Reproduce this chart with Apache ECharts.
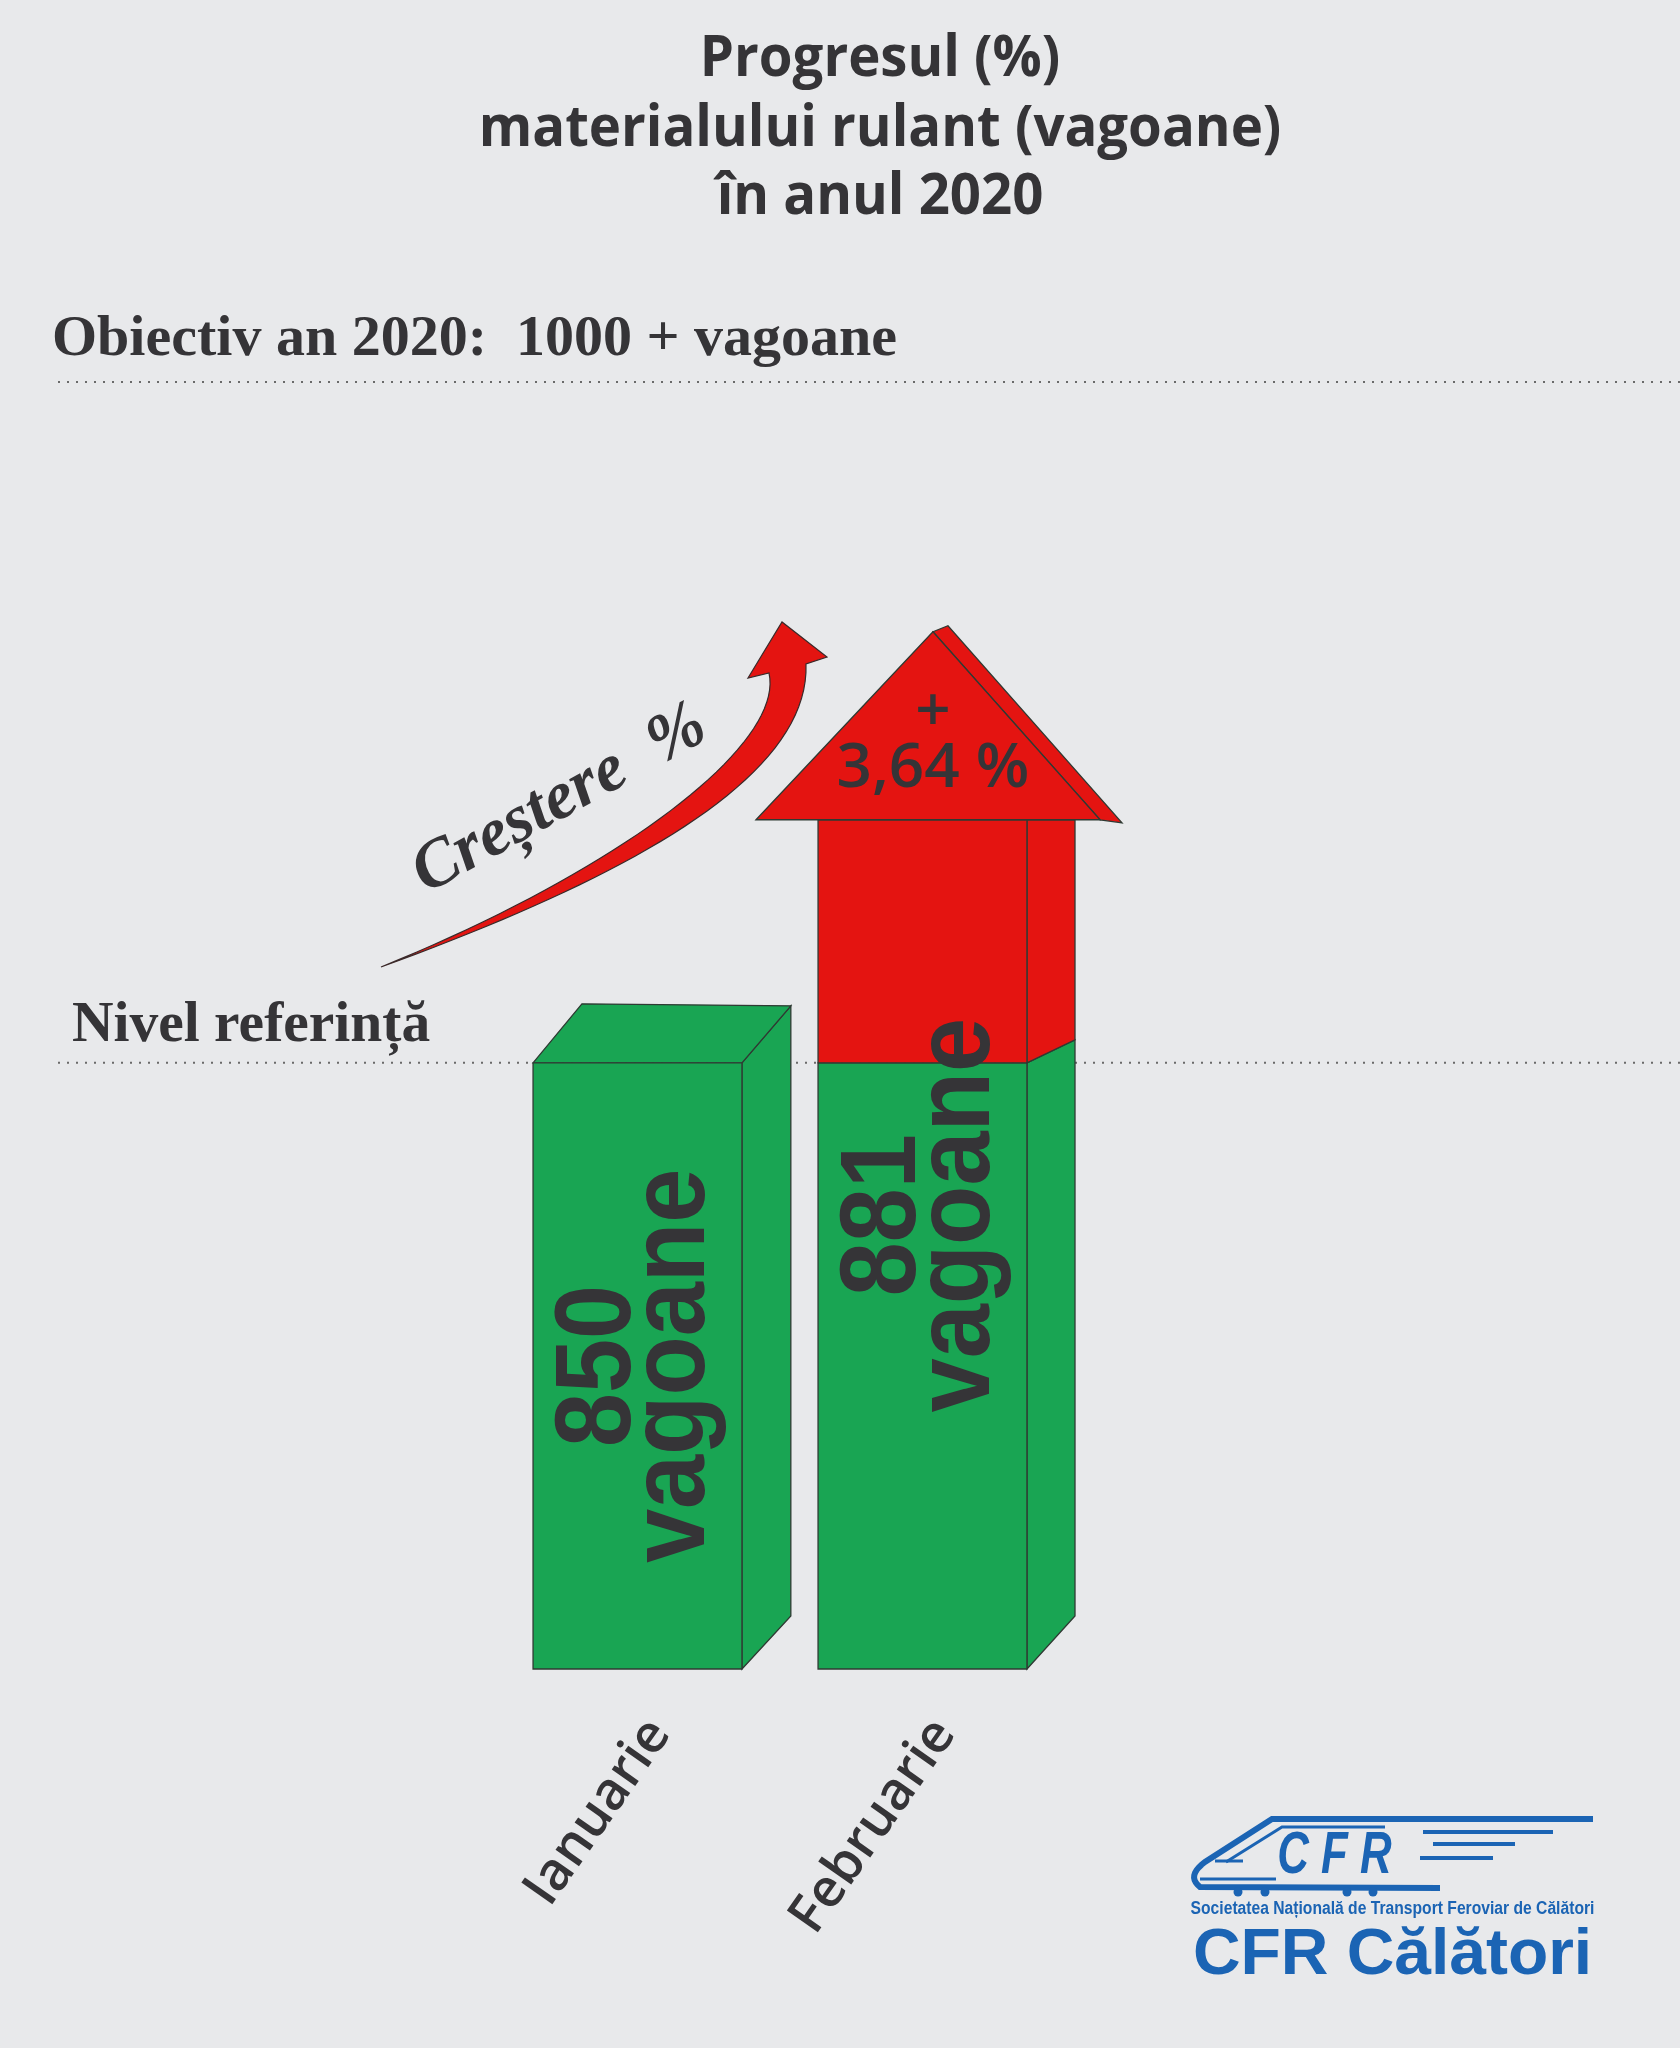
<!DOCTYPE html>
<html><head><meta charset="utf-8">
<script src="https://cdn.jsdelivr.net/npm/echarts@6/dist/echarts.min.js"></script>
<style>html,body{margin:0;padding:0;background:#e8e9eb}#c{width:1680px;height:2048px}</style>
</head><body><div id="c"></div>
<script>
// ---- data ----
const categories = ['Ianuarie', 'Februarie'];
const vagoane = [850, 881];
const nivelReferinta = 850;
const obiectivText = 'Obiectiv an 2020:  1000 + vagoane';
const cresterePct = '3,64 %';
const titleLines = ['Progresul (%)', 'materialului rulant (vagoane)', 'în anul 2020'];

// ---- style ----
const Y_MIN = 772.7, Y_MAX = 936.7;
const GREEN = '#19a553', RED = '#e41411', EDGE = '#2f3a33', INK = '#353437', BLUE = '#1b64b4';

const chart = echarts.init(document.getElementById('c'));

function txt(x, y, text, font, o) {
  o = o || {};
  const al = o.align || 'left';
  return {
    type: 'text', x: x, y: y, rotation: o.rotation || 0, scaleX: o.scaleX || 1, silent: true, z: 10,
    style: { text: text, font: font, fill: o.fill || INK, align: al, textAlign: al,
      verticalAlign: 'middle', textVerticalAlign: 'middle' }
  };
}
function cubic(p0, p1, p2, p3, n) {
  const out = [];
  for (let i = 0; i <= n; i++) {
    const t = i / n, u = 1 - t;
    out.push([u*u*u*p0[0] + 3*u*u*t*p1[0] + 3*u*t*t*p2[0] + t*t*t*p3[0],
              u*u*u*p0[1] + 3*u*u*t*p1[1] + 3*u*t*t*p2[1] + t*t*t*p3[1]]);
  }
  return out;
}
function quad(p0, p1, p2, n) {
  const out = [];
  for (let i = 0; i <= n; i++) {
    const t = i / n, u = 1 - t;
    out.push([u*u*p0[0] + 2*u*t*p1[0] + t*t*p2[0], u*u*p0[1] + 2*u*t*p1[1] + t*t*p2[1]]);
  }
  return out;
}

function renderBar(params, api) {
  const idx = api.value(0);
  const val = api.value(1);
  const base = api.coord([idx, Y_MIN]);
  const refPt = api.coord([idx, Math.min(val, nivelReferinta)]);
  const topPt = api.coord([idx, val]);
  const band = api.size([1, 0])[0];
  const w = band * 0.733;
  const cx = base[0];
  const x0 = cx - w / 2, x1 = cx + w / 2;
  const yb = base[1], yg = refPt[1], yt = topPt[1];
  const dx = w * 0.234, dy = -57;
  const poly = (pts, fill) => ({ type: 'polygon', shape: { points: pts }, style: { fill: fill, stroke: EDGE, lineWidth: 1.3 } });
  const ch = [];
  if (val <= nivelReferinta) {
    ch.push(poly([[x1, yb], [x1 + dx, yb + dy + 4], [x1 + dx, yg + dy], [x1, yg]], GREEN));
    ch.push(poly([[x0, yg], [x0 + dx, yg + dy - 2], [x1 + dx, yg + dy], [x1, yg]], GREEN));
    ch.push(poly([[x0, yb], [x1, yb], [x1, yg], [x0, yg]], GREEN));
  } else {
    const sdx = w * 0.23, sdy = -23;
    ch.push(poly([[x1, yb], [x1 + sdx, yb + dy + 4], [x1 + sdx, yg + sdy], [x1, yg]], GREEN));
    ch.push(poly([[x0, yb], [x1, yb], [x1, yg], [x0, yg]], GREEN));
    ch.push(poly([[x1, yg], [x1 + sdx, yg + sdy], [x1 + sdx, yt], [x1, yt]], RED));
    ch.push({ type: 'rect', shape: { x: x0, y: yt, width: w, height: yg - yt }, style: { fill: RED, stroke: EDGE, lineWidth: 1.3 } });
    const hl = x0 - w * 0.297, hr = x1 + w * 0.35, ax = cx + w * 0.05, ay = yt - w * 0.9;
    ch.push(poly([[ax, ay], [ax + w * 0.072, ay - 6], [hr + w * 0.105, yt + 3], [hr, yt]], RED));
    ch.push(poly([[hl, yt], [ax, ay], [hr, yt]], RED));
    ch.push({ type: 'text', x: ax, y: yt - 78, z2: 20,
      style: { text: '+\n' + cresterePct, font: '600 62px "Open Sans"', lineHeight: 56, fill: INK,
        align: 'center', textAlign: 'center', verticalAlign: 'middle', textVerticalAlign: 'middle' } });
  }
  ch.push({ type: 'text', x: cx, y: (yb + yt) / 2 - (yg - yt) * 0.12, rotation: Math.PI / 2, scaleX: 0.9, z2: 20,
    style: { text: val + '\nvagoane', font: 'bold 108px "Liberation Sans"', lineHeight: 74, fill: INK,
      align: 'center', textAlign: 'center', verticalAlign: 'middle', textVerticalAlign: 'middle' } });
  // category label under the bar (rotated like an axis label)
  ch.push({ type: 'text', x: cx + 22, y: yb + 56, rotation: 55 * Math.PI / 180, z2: 20,
    style: { text: categories[idx], font: '600 53px "Open Sans"', fill: INK,
      align: 'right', textAlign: 'right', verticalAlign: 'middle', textVerticalAlign: 'middle' } });
  return { type: 'group', children: ch };
}

// decorative curved "growth" arrow
const arrowPts = [].concat(
  cubic([381, 967], [620, 880], [810, 780], [806, 664], 40),
  [[827, 657], [782, 622], [748, 678]],
  cubic([769, 673], [785, 745], [620, 870], [381, 967], 40)
);
const logoOuter = [].concat([[1593, 1819], [1272, 1819], [1205, 1862]], quad([1205, 1862], [1186, 1876], [1200, 1887], 10), [[1440, 1888]]);

const option = {
  backgroundColor: '#e8e9eb',
  animation: false,
  grid: [
    { left: 495, right: 615, top: 383, bottom: 379, outerBoundsMode: 'none' },
    { left: 58, right: 0, top: 383, bottom: 379, outerBoundsMode: 'none' }
  ],
  xAxis: [
    { gridIndex: 0, type: 'category', data: categories,
      axisLine: { show: false }, axisTick: { show: false }, splitLine: { show: false }, axisLabel: { show: false } },
    { gridIndex: 1, type: 'value', min: 0, max: 1, show: false }
  ],
  yAxis: [
    { gridIndex: 0, type: 'value', min: Y_MIN, max: Y_MAX, show: false },
    { gridIndex: 1, type: 'value', min: Y_MIN, max: Y_MAX, show: false }
  ],
  series: [
    { type: 'line', xAxisIndex: 1, yAxisIndex: 1, data: [[0, nivelReferinta], [1, nivelReferinta]],
      symbol: 'none', silent: true, z: 1,
      lineStyle: { type: [2, 7], color: '#6a6a6a', width: 2 } },
    { type: 'custom', xAxisIndex: 0, yAxisIndex: 0, renderItem: renderBar, clip: false, z: 3,
      data: categories.map((c, i) => [i, vagoane[i]]), encode: { x: 0, y: 1 } }
  ],
  graphic: { elements: [
    txt(880, 59.5, titleLines[0], 'bold 58px "Open Sans"', { align: 'center', scaleX: 0.94 }),
    txt(880, 129.5, titleLines[1], 'bold 58px "Open Sans"', { align: 'center', scaleX: 0.94 }),
    txt(880, 197.5, titleLines[2], 'bold 58px "Open Sans"', { align: 'center', scaleX: 0.94 }),
    txt(52, 340.4, obiectivText, 'bold 58px "Liberation Serif"'),
    { type: 'line', silent: true, shape: { x1: 58, y1: 382, x2: 1680, y2: 382 },
      style: { stroke: '#6a6a6a', lineWidth: 2, lineDash: [2, 7] } },
    txt(72, 1026, 'Nivel referință', 'bold 57.5px "Liberation Serif"'),
    { type: 'polygon', silent: true, shape: { points: arrowPts },
      style: { fill: RED, stroke: '#3a2a2a', lineWidth: 1.2 } },
    txt(560, 800, 'Creștere  %', 'italic bold 68px "Liberation Serif"', { align: 'center', rotation: 0.505 }),
    // logo
    { type: 'polyline', silent: true, shape: { points: logoOuter }, style: { stroke: BLUE, lineWidth: 6, fill: null } },
    { type: 'polyline', silent: true, shape: { points: [[1385, 1827], [1282, 1827], [1226, 1862]] }, style: { stroke: BLUE, lineWidth: 3, fill: null } },
    { type: 'line', silent: true, shape: { x1: 1423, y1: 1832, x2: 1553, y2: 1832 }, style: { stroke: BLUE, lineWidth: 4 } },
    { type: 'line', silent: true, shape: { x1: 1433, y1: 1844, x2: 1515, y2: 1844 }, style: { stroke: BLUE, lineWidth: 4 } },
    { type: 'line', silent: true, shape: { x1: 1420, y1: 1858, x2: 1493, y2: 1858 }, style: { stroke: BLUE, lineWidth: 4 } },
    { type: 'line', silent: true, shape: { x1: 1215, y1: 1861, x2: 1243, y2: 1861 }, style: { stroke: BLUE, lineWidth: 3 } },
    { type: 'line', silent: true, shape: { x1: 1200, y1: 1879, x2: 1276, y2: 1879 }, style: { stroke: BLUE, lineWidth: 3 } },
    { type: 'circle', silent: true, shape: { cx: 1238, cy: 1892, r: 4.5 }, style: { fill: BLUE } },
    { type: 'circle', silent: true, shape: { cx: 1265, cy: 1892, r: 4.5 }, style: { fill: BLUE } },
    { type: 'circle', silent: true, shape: { cx: 1347, cy: 1892, r: 4.5 }, style: { fill: BLUE } },
    { type: 'circle', silent: true, shape: { cx: 1373, cy: 1892, r: 4.5 }, style: { fill: BLUE } },
    txt(1334.5, 1856, 'C F R', 'italic bold 60px "Liberation Sans"', { align: 'center', scaleX: 0.73, fill: BLUE }),
    txt(1392.5, 1909, 'Societatea Națională de Transport Feroviar de Călători', 'bold 18px "Liberation Sans"', { align: 'center', scaleX: 0.87, fill: BLUE }),
    txt(1392.5, 1956, 'CFR Călători', 'bold 64px "Liberation Sans"', { align: 'center', scaleX: 1.03, fill: BLUE })
  ] }
};
chart.setOption(option);
</script></body></html>
